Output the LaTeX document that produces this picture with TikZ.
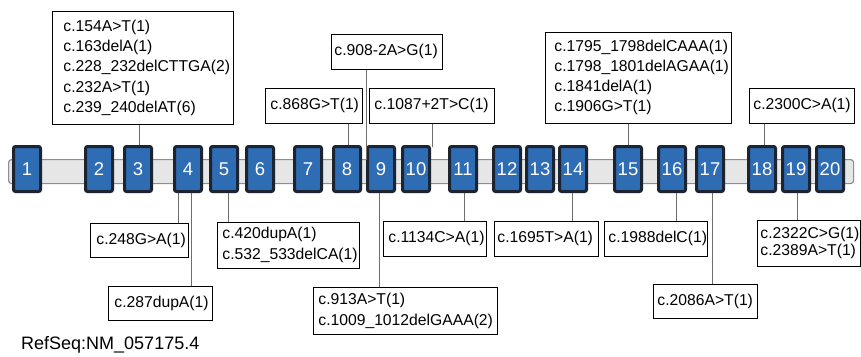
\documentclass[tikz,border=0pt]{standalone}
\usepackage{fontspec}
\setmainfont{Liberation Sans}
\usetikzlibrary{calc}
\definecolor{exfill}{HTML}{2E6CB4}
\definecolor{exdraw}{HTML}{1C2331}
\definecolor{barfill}{HTML}{E6E6E6}
\definecolor{bardraw}{HTML}{8E8E8E}
\definecolor{conn}{HTML}{6E6E6E}
\tikzset{
 exon/.style={draw=exdraw, fill=exfill, line width=3pt, rounded corners=2pt, minimum width=27pt, minimum height=45pt, inner sep=0pt, text=white, font=\fontsize{18.5}{18.5}\selectfont},
 mbox/.style={draw=black, line width=0.8pt, fill=white, anchor=north west, align=left, inner ysep=0pt, font=\fontsize{15.7}{20.4}\selectfont},
 conline/.style={draw=conn, line width=0.9pt},
 intron/.style={draw=bardraw, fill=barfill, line width=1.2pt, rounded corners=3pt, inner sep=0pt, anchor=north west}
}
\begin{document}
\begin{tikzpicture}[x=1pt,y=-1pt]
\useasboundingbox (0,0) rectangle (861,356);
% intron bar
\node[intron, minimum width=845pt, minimum height=24pt] (bar) at (8,159) {};
% top boxes
\node[mbox, minimum width=181pt, minimum height=113pt, inner xsep=11pt, text width=159pt] (t3) at (52,11)
 {c.154A>T(1)\\c.163delA(1)\\c.228\_232delCTTGA(2)\\c.232A>T(1)\\c.239\_240delAT(6)};
\node[mbox, minimum width=97pt, minimum height=35pt, inner xsep=5pt, text width=87pt] (t8) at (265,88) {c.868G>T(1)};
\node[mbox, minimum width=111pt, minimum height=35pt, inner xsep=3pt, text width=105pt] (t9) at (331,34) {c.908-2A>G(1)};
\node[mbox, minimum width=125pt, minimum height=35pt, inner xsep=5pt, text width=115pt] (t10) at (369,88) {c.1087+2T>C(1)};
\node[mbox, minimum width=186pt, minimum height=91pt, inner xsep=9pt, text width=168pt, font=\fontsize{15.7}{20}\selectfont] (t15) at (545,32)
 {c.1795\_1798delCAAA(1)\\c.1798\_1801delAGAA(1)\\c.1841delA(1)\\c.1906G>T(1)};
\node[mbox, minimum width=105pt, minimum height=35pt, inner xsep=4pt, text width=97pt] (t18) at (749,88) {c.2300C>A(1)};
% bottom boxes
\node[mbox, minimum width=98pt, minimum height=34pt, inner xsep=6pt, text width=86pt] (b4a) at (90,223) {c.248G>A(1)};
\node[mbox, minimum width=104pt, minimum height=34pt, inner xsep=6pt, text width=92pt] (b4b) at (108,286) {c.287dupA(1)};
\node[mbox, minimum width=142pt, minimum height=46pt, inner xsep=5pt, text width=132pt, font=\fontsize{15.7}{21}\selectfont] (b5) at (217,222) {c.420dupA(1)\\c.532\_533delCA(1)};
\node[mbox, minimum width=184pt, minimum height=47pt, inner xsep=5pt, text width=174pt, font=\fontsize{15.7}{21}\selectfont] (b9) at (313,287) {c.913A>T(1)\\c.1009\_1012delGAAA(2)};
\node[mbox, minimum width=103pt, minimum height=35pt, inner xsep=5pt, text width=93pt] (b11) at (383,221) {c.1134C>A(1)};
\node[mbox, minimum width=104pt, minimum height=35pt, inner xsep=3pt, text width=98pt] (b14) at (494,221) {c.1695T>A(1)};
\node[mbox, minimum width=103pt, minimum height=35pt, inner xsep=4pt, text width=95pt] (b16) at (604,221) {c.1988delC(1)};
\node[mbox, minimum width=104pt, minimum height=34pt, inner xsep=4pt, text width=96pt] (b17) at (653,284) {c.2086A>T(1)};
\node[mbox, minimum width=103pt, minimum height=46pt, inner xsep=3pt, text width=97pt, font=\fontsize{15.7}{17}\selectfont] (b19) at (757,220) {c.2322C>G(1)\\c.2389A>T(1)};
% exons
\foreach \n/\x in {1/27,2/99,3/138,4/188,5/224,6/260,7/308,8/347,9/381,10/416,11/463,12/507,13/540,14/573,15/628,16/672,17/710,18/762,19/796,20/830}
  \node[exon] (e\n) at (\x,169) {\n};
% connectors
\coordinate (s9) at (366,160);
\coordinate (s10) at ([xshift=1pt]e10.north east);
\draw[conline] ([xshift=1pt]e3.north) -- ([xshift=1pt]e3.north |- t3.south);
\draw[conline] ([xshift=1pt]e8.north) -- ([xshift=1pt]e8.north |- t8.south);
\draw[conline] (s9 |- t9.south) -- (s9);
\draw[conline] ([yshift=-1.5pt]s10) -- (s10 |- t10.south);
\draw[conline] (e15.north) -- (e15.north |- t15.south);
\draw[conline] ([xshift=2pt]e18.north) -- ([xshift=2pt]e18.north |- t18.south);
\draw[conline] ([xshift=-10pt]e4.south) -- ([xshift=-10pt]e4.south |- b4a.north);
\draw[conline] ([xshift=3pt]e4.south) -- ([xshift=3pt]e4.south |- b4b.north);
\draw[conline] ([xshift=4pt]e5.south) -- ([xshift=4pt]e5.south |- b5.north);
\draw[conline] ([xshift=-2pt]e9.south) -- ([xshift=-2pt]e9.south |- b9.north);
\draw[conline] ([xshift=1pt]e11.south) -- ([xshift=1pt]e11.south |- b11.north);
\draw[conline] ([xshift=-1pt]e14.south) -- ([xshift=-1pt]e14.south |- b14.north);
\draw[conline] ([xshift=4pt]e16.south) -- ([xshift=4pt]e16.south |- b16.north);
\draw[conline] ([xshift=2pt]e17.south) -- ([xshift=2pt]e17.south |- b17.north);
\draw[conline] ([xshift=1pt]e19.south) -- ([xshift=1pt]e19.south |- b19.north);
% caption
\node[anchor=west, inner sep=0pt, font=\fontsize{18}{18}\selectfont] (ref) at (21,345) {RefSeq:NM\_057175.4};
\end{tikzpicture}
\end{document}
